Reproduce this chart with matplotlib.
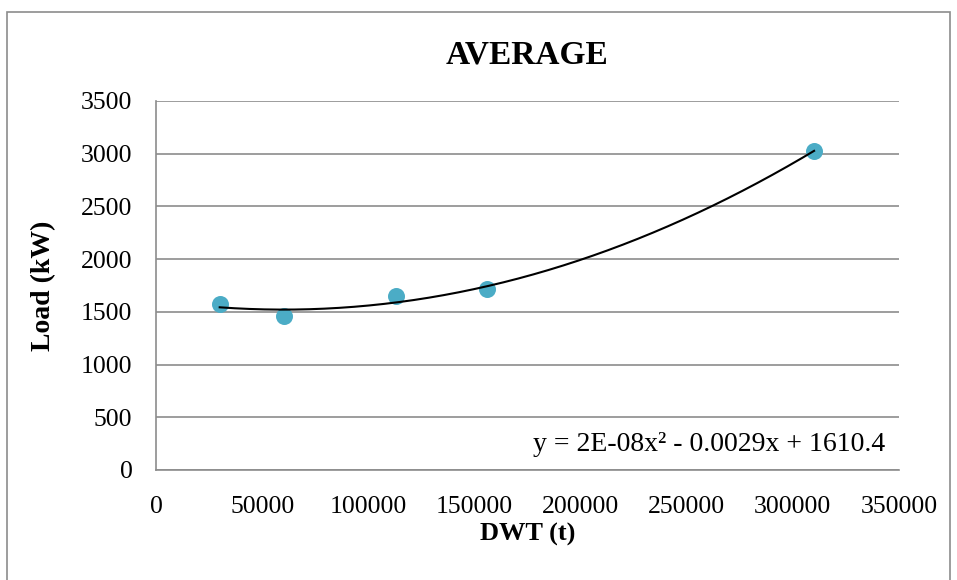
import numpy as np
import matplotlib.pyplot as plt
from matplotlib.patches import Rectangle

plt.rcParams['font.family'] = ['Liberation Serif', 'DejaVu Serif']

# data
dwt = [30000, 60500, 113000, 156000, 310000]
load = [1570, 1460, 1650, 1716, 3028]
equation = 'y = 2E-08x\u00b2 - 0.0029x + 1610.4'

fig = plt.figure(figsize=(9.57, 5.8), dpi=100)
ax = fig.add_axes([156/957, 1 - 470/580, 743/957, 369/580])

# outer chart frame
fig.patches.append(Rectangle((7/957, -0.05), 943/957, 1.05 - 12/580,
                             transform=fig.transFigure, fill=False,
                             edgecolor='#8c8c8c', linewidth=1.2))

# 2nd order polynomial trendline
coef = np.polyfit(dwt, load, 2)
xs = np.linspace(min(dwt), max(dwt), 200)
ax.plot(xs, np.polyval(coef, xs), color='black', linewidth=1.5, zorder=3)

ax.scatter(dwt, load, s=150, color='#4BACC6', zorder=2, linewidths=0)

ax.set_xlim(0, 350000)
ax.set_ylim(0, 3500)
ax.set_xticks(range(0, 350001, 50000))
ax.set_yticks(range(0, 3501, 500))
ax.grid(axis='y', color='#8c8c8c', linewidth=1.2)
ax.set_axisbelow(True)
for s in ['top', 'right']:
    ax.spines[s].set_visible(False)
for s in ['left', 'bottom']:
    ax.spines[s].set_color('#8c8c8c')
    ax.spines[s].set_linewidth(1.2)
ax.tick_params(length=0, labelsize=18.5)
ax.tick_params(axis='y', pad=17)
ax.tick_params(axis='x', pad=19)

ax.set_title('AVERAGE', fontsize=24, fontweight='bold', pad=27)
ax.set_xlabel('DWT (t)', fontsize=19, fontweight='bold', labelpad=3)
ax.set_ylabel('Load (kW)', fontsize=20, fontweight='bold', labelpad=18)

ax.text(0.981, 0.068, equation, transform=ax.transAxes, ha='right',
        va='center', fontsize=20)

fig.savefig('out.png', dpi=100)
